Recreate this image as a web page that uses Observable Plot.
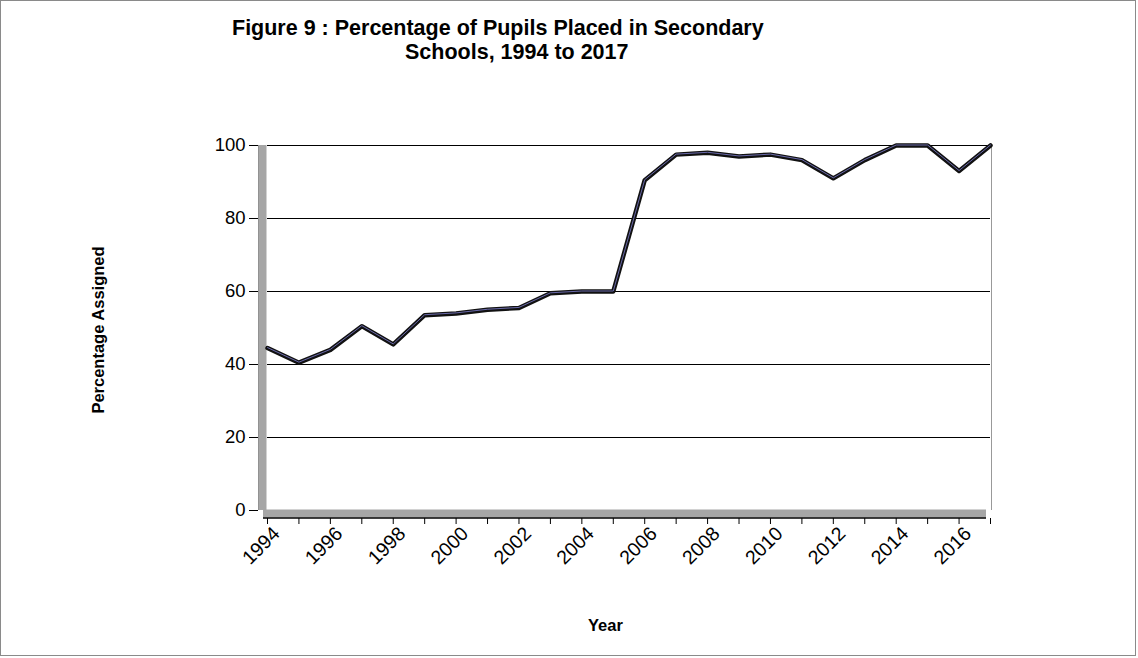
<!DOCTYPE html>
<html>
<head>
<meta charset="utf-8">
<script src="https://cdn.jsdelivr.net/npm/d3@7"></script>
<script src="https://cdn.jsdelivr.net/npm/@observablehq/plot@0.6"></script>
<style>
  body { margin: 0; background: #fff; }
  #wrap { position: relative; width: 1138px; height: 658px; overflow: hidden; font-family: "Liberation Sans", Arial, sans-serif; }
  #border { position: absolute; left: 0; top: 0; width: 1134px; height: 654px; border: 1px solid #8a8a8a; pointer-events: none; }
  .t { position: absolute; font-weight: bold; color: #000; white-space: nowrap; line-height: 1; }
  #chart { position: absolute; left: 0; top: 0; }
</style>
</head>
<body>
<div id="wrap">
  <div id="chart"></div>
  <div class="t" style="left:232px; top:18px; font-size:21.5px;">Figure 9 : Percentage of Pupils Placed in Secondary</div>
  <div class="t" style="left:405px; top:42px; font-size:21.5px;">Schools, 1994 to 2017</div>
  <div class="t" style="left:588px; top:617px; font-size:16.5px;">Year</div>
  <div class="t" style="left:98px; top:330px; font-size:16.5px; transform: translate(-50%,-50%) rotate(-90deg);">Percentage Assigned</div>
  <div id="border"></div>
</div>
<script>
const years = [1994,1995,1996,1997,1998,1999,2000,2001,2002,2003,2004,2005,2006,2007,2008,2009,2010,2011,2012,2013,2014,2015,2016,2017];
const percentages = [44.5,40.5,44,50.5,45.5,53.5,54,55,55.5,59.5,60,60,90.5,97.5,98,97,97.5,96,91,96,100,100,93,100];
const yTicks = [0,20,40,60,80,100];
const xTickLabels = ["1994","1996","1998","2000","2002","2004","2006","2008","2010","2012","2014","2016"];

const data = years.map((y, i) => ({year: y, value: percentages[i]}));

const chart = Plot.plot({
  width: 1138,
  height: 658,
  marginTop: 145,
  marginBottom: 148,
  marginLeft: 267,
  marginRight: 148,
  style: {fontFamily: "'Liberation Sans', Arial, sans-serif", fontSize: "16px", background: "transparent", color: "#000"},
  x: {domain: [1994, 2017]},
  y: {domain: [0, 100]},
  marks: [
    Plot.ruleY(yTicks.filter(d => d > 0), {stroke: "#000", strokeWidth: 1}),
    Plot.ruleX([2017], {y1: 0, y2: 100, stroke: "#999", strokeWidth: 1, dx: 1}),
    Plot.ruleX([1994], {y1: 0, y2: 100, stroke: "#a6a6a6", strokeWidth: 8, dx: -5}),
    Plot.ruleX([1994], {y1: 0, y2: 100, stroke: "#777", strokeWidth: 0.7, dx: -9}),
    Plot.ruleY([0], {x1: 1994, x2: 2017, stroke: "#a6a6a6", strokeWidth: 8, dy: 3, dx: -4}),
    Plot.ruleY([0], {x1: 1994, x2: 2017, stroke: "#000", strokeWidth: 1.5, dy: 7.5, dx: -4}),
    Plot.axisY({ticks: yTicks, tickSize: 9, tickPadding: 4, dx: -9, label: null, fontSize: 18.5}),
    Plot.axisX({ticks: years, tickSize: 6, dy: 8, tickFormat: () => "", label: null}),
    Plot.axisX({ticks: years.filter(d => xTickLabels.includes(String(d))), tickSize: 0, dy: 14, dx: 9, tickFormat: d => String(d), tickRotate: -45, tickPadding: 6, label: null, fontSize: 19.5}),
    Plot.line(data, {x: "year", y: "value", stroke: "#111", strokeWidth: 4.5, strokeLinejoin: "round"}),
    Plot.line(data, {x: "year", y: "value", stroke: "#7f7fd0", strokeWidth: 1, dy: -0.5, strokeOpacity: 0.8})
  ]
});
document.getElementById("chart").appendChild(chart);
</script>
</body>
</html>
